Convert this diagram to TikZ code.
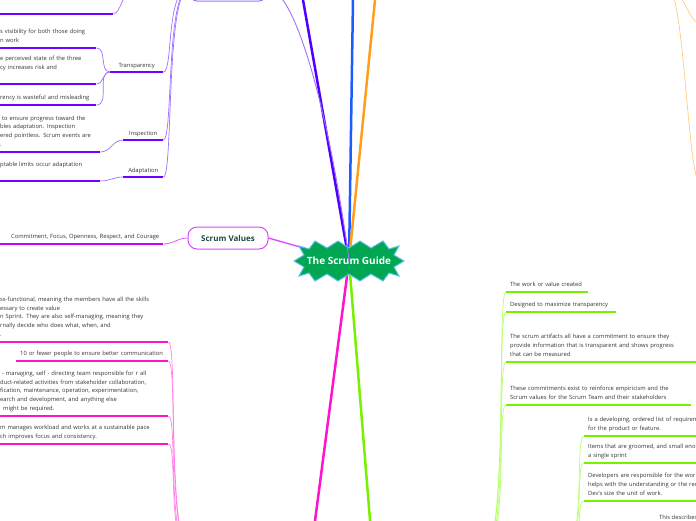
\documentclass[tikz,border=0pt]{standalone}
\usepackage{fontspec}
\setmainfont{Open Sans}
\usetikzlibrary{backgrounds}

\definecolor{guidegreen}{HTML}{00A651}
\definecolor{guideedge}{HTML}{5BC2E7}
\definecolor{leafink}{HTML}{333333}
\definecolor{topicink}{HTML}{1D4D3F}
\definecolor{defnindigo}{HTML}{4F00FF}
\definecolor{rolesblue}{HTML}{1E5BFF}
\definecolor{eventsorange}{HTML}{FF9E1B}
\definecolor{teammagenta}{HTML}{FF14CC}
\definecolor{artiflime}{HTML}{78F000}
\definecolor{theoryviolet}{HTML}{7000FF}
\definecolor{theorytwig}{HTML}{A070FF}
\definecolor{valuesedge}{HTML}{DD44FF}
\definecolor{valuesline}{HTML}{CC00FF}
\definecolor{teamtwig}{HTML}{FF80E8}
\definecolor{artiftwig}{HTML}{B8FF70}
\definecolor{eventstwig}{HTML}{FFCC80}

\newcommand\leaffont{\fontsize{5.8}{8.6}\selectfont}

\tikzset{
  leaf/.style  = {anchor=south west, inner xsep=4pt, inner ysep=3.2pt, align=left,
                  font=\leaffont, text=leafink, execute at end node=\strut},
  tag/.style   = {leaf, align=center, inner ysep=2pt},
  uline/.style = {line width=1.4pt},
  twig/.style  = {line width=0.7pt},
  trunk/.style = {line width=2.5pt},
  topic/.style = {draw, rounded corners=7pt, line width=1pt, fill=white},
  burst/.style = {fill=guidegreen, draw=guideedge, line width=1pt, line join=miter},
}

\begin{document}
\begin{tikzpicture}[x=1pt,y=-1pt]
  \useasboundingbox (0,0) rectangle (696,520);
  \clip (0,0) rectangle (696,520);

  % centre and main topics
  \node[text=white, font=\bfseries\fontsize{10}{12}\selectfont] (guide) at (349,261) {The Scrum Guide};
  \node[topic, draw=theorytwig, minimum width=76pt, minimum height=26pt] (theory) at (228,-12) {};
  \node[topic, draw=valuesedge, rounded corners=9pt, minimum width=80pt, minimum height=22pt,
        text=topicink, font=\bfseries\fontsize{8}{9}\selectfont] (values) at (228,238) {Scrum Values};
  \coordinate (defn) at (299.5,-20);
  \coordinate (roles) at (353.3,-20);
  \coordinate (events) at (377,-20);
  \coordinate (team) at (312.5,540);
  \coordinate (artifacts) at (371.6,540);

  % hubs of topics outside the picture
  \coordinate (empirhub) at (140,-24);
  \coordinate (teamhub) at (195,560);
  \coordinate (artifhub) at (480,560);
  \coordinate (backloghub) at (558,560);
  \coordinate (eventshub) at (668,-12);
  \coordinate (o1) at (700,23);
  \coordinate (o2) at (700,183);

  % scrum theory
  \node[leaf, text width=109pt] (top1) at (-4,14) {};
  \node[leaf, text width=92pt] (tc1) at (-4,48) {s visibility for both those doing\\n work};
  \node[leaf, text width=92pt] (tc2) at (-4,84) {e perceived state of the three\\cy increases risk and\\~};
  \node[leaf, text width=92pt] (tc3) at (-4,105) {rency is wasteful and misleading};
  \node[tag, text width=45pt] (transp) at (110,72) {Transparency};
  \node[leaf, text width=96pt] (ic1) at (-4,152)
    {\hspace*{2pt}to ensure progress toward the\\bles adaptation. Inspection\\ered pointless. Scrum events are\\.};
  \node[tag, text width=32pt] (insp) at (123,140) {Inspection};
  \node[leaf, text width=96pt] (ac1) at (-4,181) {ptable limits occur adaptation\\~};
  \node[tag, text width=32pt] (adapt) at (123,177) {Adaptation};
  \foreach \n in {top1,tc1,tc2,tc3,transp,ic1,insp,ac1,adapt}
    \draw[uline, theoryviolet] (\n.south west) -- (\n.south east);
  \draw[twig, theorytwig] (top1.south east) to[out=0,in=180,out distance=8pt,in distance=12pt] (empirhub);
  \foreach \n in {tc1,tc2,tc3}
    \draw[twig, theorytwig] (\n.south east) to[out=0,in=180] (transp.south west);
  \draw[twig, theorytwig] (ic1.south east) to[out=0,in=180] (insp.south west);
  \draw[twig, theorytwig] (ac1.south east) to[out=0,in=180] (adapt.south west);
  \foreach \n in {transp,insp,adapt}
    \draw[twig, theorytwig] (\n.south east) to[out=0,in=180,out distance=10pt,in distance=24pt] (theory.west);
  \draw[line width=0.9pt, theorytwig] (theory.east) .. controls (300,-12) and (335,150) .. (guide.center);

  % scrum values
  \node[leaf, align=right, text width=159pt] (vc1) at (-4,244) {Commitment, Focus, Openness, Respect, and Courage};
  \draw[uline, valuesline] (vc1.south west) -- (vc1.south east);
  \draw[twig, valuesedge] (vc1.south east) to[out=0,in=180] (values.west);

  % scrum team
  \node[leaf, text width=164pt] (dc1) at (-4,342)
    {ss-functional, meaning the members have all the skills\\essary to create value\\n Sprint. They are also self-managing, meaning they\\rnally decide who does what, when, and\\.};
  \node[leaf, text width=144pt] (dc2) at (16,361) {10 or fewer people to ensure better communication};
  \node[leaf, text width=164pt] (dc3) at (-4,416)
    {\hspace*{2pt}- managing, self - directing team responsible for r all\\duct-related activities from stakeholder collaboration,\\fication, maintenance, operation, experimentation,\\earch and development, and anything else\\\hspace*{3pt}might be required.};
  \node[leaf, text width=164pt] (dc4) at (-4,444)
    {m manages workload and works at a sustainable pace\\ch improves focus and consistency.};
  \foreach \n in {dc1,dc2,dc3,dc4} {
    \draw[uline, teammagenta] (\n.south west) -- (\n.south east);
    \draw[twig, teamtwig] (\n.south east) to[out=0,in=180,out distance=10pt,in distance=30pt] (teamhub);
  }

  % scrum artifacts
  \node[leaf, text width=74pt] (g1) at (506,292) {The work or value created};
  \node[leaf, text width=102pt] (g2) at (506,312) {Designed to maximize transparency};
  \node[leaf, text width=192pt] (g3) at (506,362)
    {The scrum artifacts all have a commitment to ensure they\\provide information that is transparent and shows progress\\that can be measured};
  \node[leaf, text width=177pt] (g4) at (506,405)
    {These commitments exist to reinforce empiricism and the\\Scrum values for the Scrum Team and their stakeholders};
  \node[leaf, text width=140pt] (h1) at (584,436) {Is a developing, ordered list of requirements\\for the product or feature.};
  \node[leaf, text width=140pt] (h2) at (584,463) {Items that are groomed, and small enough\\a single sprint};
  \node[leaf, text width=140pt] (h3) at (584,501)
    {Developers are responsible for the work\\helps with the understanding or the requirements\\Dev's size the unit of work.};
  \node[anchor=base west, inner sep=0pt, font=\leaffont, text=leafink] (h4) at (659,519) {This describes};
  \foreach \n in {g1,g2,g3,g4} {
    \draw[uline, artiflime] (\n.south west) -- (\n.south east);
    \draw[twig, artiftwig] (\n.south west) to[out=180,in=0,out distance=10pt,in distance=30pt] (artifhub);
  }
  \foreach \n in {h1,h2,h3} {
    \draw[uline, artiflime] (\n.south west) -- (\n.south east);
    \draw[twig, artiftwig] (\n.south west) to[out=180,in=0,out distance=10pt,in distance=30pt] (backloghub);
  }

  % scrum events
  \draw[twig, eventstwig] (eventshub) to[out=0,in=180,out distance=16pt,in distance=12pt] (o1);
  \draw[twig, eventstwig] (eventshub) to[out=0,in=180,out distance=16pt,in distance=12pt] (o2);

  % main branches, then the burst under the title
  \begin{scope}[on background layer]
    \draw[trunk, defnindigo] (guide.center) -- (defn);
    \draw[trunk, rolesblue] (guide.center) -- (roles);
    \draw[trunk, eventsorange] (guide.center) -- (events);
    \draw[trunk, teammagenta] (guide.center) -- (team);
    \draw[trunk, artiflime] (guide.center) -- (artifacts);
    \draw[line width=1.3pt, valuesedge] (values.east) -- (guide.center);
    \draw[burst, shift={(guide.center)}]
      (-55,0) -- (-45,-6) -- (-50,-15) -- (-40,-12) -- (-34,-20) -- (-22,-13) -- (-11,-20)
      -- (0,-13) -- (11,-20) -- (22,-13) -- (34,-20) -- (40,-12) -- (50,-15) -- (45,-6)
      -- (55,0) -- (45,6) -- (50,15) -- (40,12) -- (34,20) -- (22,13) -- (11,20)
      -- (0,13) -- (-11,20) -- (-22,13) -- (-34,20) -- (-40,12) -- (-50,15) -- (-45,6) -- cycle;
  \end{scope}
\end{tikzpicture}
\end{document}
